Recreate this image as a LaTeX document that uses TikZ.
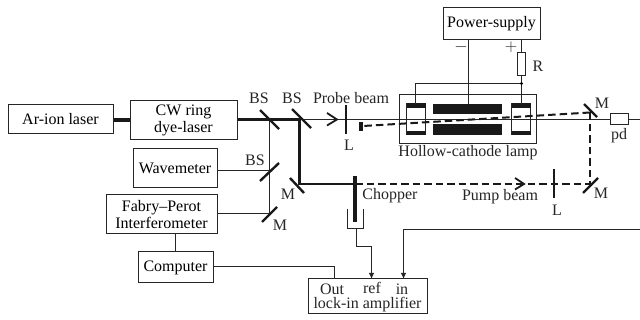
\documentclass[tikz,border=0pt]{standalone}
\usepackage{fontspec}
\usetikzlibrary{arrows.meta}
\setmainfont{Liberation Serif}
\tikzset{
 box/.style={draw=black!85,line width=1pt,inner sep=0pt,align=center,font=\fontsize{16}{17}\selectfont},
 lab/.style={inner sep=0pt,font=\fontsize{16}{17}\selectfont,text=black!85},
 thin line/.style={draw=black!85,line width=1pt},
 thick beam/.style={draw=black!90,line width=2.2pt},
 dash beam/.style={draw=black!90,line width=2pt,dash pattern=on 7.5pt off 4pt},
 optic/.style={draw=black!90,line width=2.2pt},
 mirror/.style={draw=black!90,line width=2.4pt},
}
\begin{document}
\begin{tikzpicture}[x=1pt,y=-1pt]
\useasboundingbox (0,0) rectangle (640,320);
\fill[white] (0,0) rectangle (640,320);
% boxes
\node[box,minimum width=105pt,minimum height=29pt] (ar) at (60.5,119) {Ar-ion laser};
\node[box,minimum width=107pt,minimum height=39pt] (cw) at (183.5,120.5) {CW ring\\[0pt]dye-laser};
\node[box,minimum width=84pt,minimum height=39pt] (wm) at (175,168.5) {Wavemeter};
\node[box,minimum width=111pt,minimum height=39pt] (fp) at (161.5,214.5) {Fabry–Perot\\[0pt]Interferometer};
\node[box,minimum width=75pt,minimum height=31pt] (comp) at (175.5,267.5) {Computer};
\node[box,minimum width=119pt,minimum height=35pt] (lock) at (367.5,296.5) {};
\node[box,minimum width=97pt,minimum height=32pt] (ps) at (491.5,24) {Power-supply};
\node[box,minimum width=137pt,minimum height=49pt] (lamp) at (467.5,119.5) {};
\node[box,minimum width=18pt,minimum height=11pt] (pd) at (619,119.5) {};
\node[box,minimum width=8pt,minimum height=23pt] (res) at (521.5,64.5) {};
% coordinates
\coordinate (b1) at (269.5,119.5);
\coordinate (b2) at (299.5,119.5);
\coordinate (m2) at (299.5,184);
\coordinate (bs3) at (269.5,170.5);
\coordinate (m3) at (269.5,213.5);
\coordinate (mt) at (590,112.5);
\coordinate (mb) at (590,184);
\coordinate (chop) at (355,184);
\coordinate (blockr) at (363,126);
\coordinate (rightend) at (640,119.5);
\coordinate (inright) at (640,229.5);
% laser link and beams
\draw[draw=black!90,line width=4pt] (ar.east |- 0,120) -- (cw.west |- 0,120);
\draw[thin line] (b2) -- (pd.west);
\draw[thin line] (pd.east) -- (rightend);
\draw[thick beam] (cw.east |- b1) -- (b2) -- (m2) -- (chop);
\draw[thin line] (b1) -- (m3);
\draw[thin line] (wm.east |- bs3) -- (bs3);
\draw[thin line] (fp.east |- m3) -- (m3);
\draw[dash beam] (chop) -- (mb) -- (mt);
% optics
\draw[mirror] (260,110) -- (279,129);
\draw[mirror] (292,109) -- (311,128);
\draw[mirror] (260,181) -- (279,163);
\draw[mirror] (262,222) -- (277,207);
\draw[mirror] (290,178) -- (304,193);
\draw[mirror] (584,104) -- (597,117);
\draw[mirror] (583,193) -- (598,178);
\draw[optic] (346,105) -- (346,134);
\draw[optic] (554,169) -- (554,198);
\draw[line width=1.8pt,black!90] (327,113) -- (337,119.5) -- (327,125.5);
\draw[line width=1.8pt,black!90] (515,178) -- (524,184) -- (515,189.5);
\fill[black!90] (359,122) rectangle (363,131);
% chopper
\fill[black!90] (353,176) rectangle (357,222);
\draw[thin line] (347.5,209) -- (347.5,228.5) -- (363.5,228.5) -- (363.5,209);
\coordinate (cup) at (356.5,228.5);
\draw[thin line,-{Latex[length=6pt,width=5.5pt]}] (cup) -- (356.5,246.5) -- (371.5,246.5) -- (371.5,279);
\draw[thin line,-{Latex[length=6pt,width=5.5pt]}] (inright) -- (403.5,229.5) -- (403.5,279);
% control
\draw[thin line] (fp.south -| comp.north) -- (comp.north);
\draw[thin line] (comp.east |- 0,266.5) -- (334.5,266.5) -- (334.5,279);
% lamp
\foreach \xa/\xb in {406.5/425.5,511.5/530.5}{
 \draw[black!85,line width=1pt] (\xa,104) rectangle (\xb,135);
 \fill[black!90] (\xa,103.5) rectangle (\xb,108);
 \fill[black!90] (\xa,131) rectangle (\xb,135.5);
}
\fill[black!90] (433,104) rectangle (502,114);
\fill[black!90] (433,124) rectangle (502,135);
\draw[dash beam] (mt) -- (blockr);
\draw[thin line] (415.5,104) -- (415.5,83.5) -- (521.5,83.5);
\draw[thin line] (468.5,40) -- (468.5,104);
\draw[thin line] (521.5,40) -- (res.north);
\draw[thin line] (res.south) -- (521.5,104);
\fill[black] (521.5,83.5) circle (1.7pt);
% labels
\node[lab] (lbs1) at (259,98) {BS};
\node[lab] (lbs2) at (292,98) {BS};
\node[lab] (lbs3) at (255,160) {BS};
\node[lab] (lpb) at (351,98) {Probe beam};
\node[lab] (ll1) at (349,145) {L};
\node[lab] (lhc) at (468,153) {Hollow-cathode lamp};
\node[lab] (lm1) at (602,103) {M};
\node[lab] (lpd) at (619,136) {pd};
\node[lab] (lm2) at (601,193) {M};
\node[lab] (lm3) at (288,194) {M};
\node[lab] (lm4) at (280,225) {M};
\node[lab] (lchop) at (390,196) {Chopper};
\node[lab] (lpump) at (500,197) {Pump beam};
\node[lab] (ll2) at (557,210) {L};
\node[lab] (lr) at (538,66) {R};
\node[lab] (lminus) at (461,47) {$-$};
\node[lab] (lplus) at (511,47) {$+$};
\node[lab] (lout) at (332,289) {Out};
\node[lab] (lref) at (372,288) {ref};
\node[lab] (lin) at (402,289) {in};
\node[lab] (llock) at (367.5,305) {lock-in amplifier};
\end{tikzpicture}
\end{document}
